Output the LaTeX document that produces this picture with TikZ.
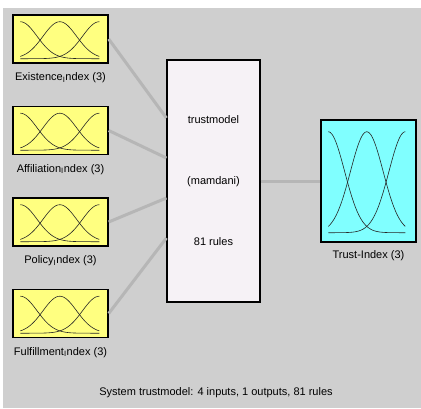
\documentclass[tikz,border=0pt]{standalone}
\usepackage{fontspec}
\setmainfont{Liberation Sans}
\usepackage{xcolor}
\usepackage{tikz}

\definecolor{figgray}{HTML}{CFCFCF}
\definecolor{wiregray}{HTML}{B6B6B6}
\definecolor{inyellow}{HTML}{FFFF80}
\definecolor{outcyan}{HTML}{80FFFF}
\definecolor{rulewhite}{HTML}{F6F2F6}

\begin{document}
\begin{tikzpicture}[
  x=1pt, y=-1pt,
  font=\fontsize{11}{13}\selectfont,
  every node/.style={inner sep=0pt},
  varbox/.style={draw=black, line width=1.4pt, minimum width=95pt, minimum height=48pt},
  inbox/.style={varbox, fill=inyellow},
  outbox/.style={varbox, fill=outcyan, minimum height=122pt},
  rulebox/.style={draw=black, line width=1.2pt, fill=rulewhite, minimum width=93pt,
    minimum height=242pt, align=center},
  wire/.style={draw=wiregray, line width=3pt},
  mfline/.style={draw=black!85, line width=0.6pt},
  pics/gaussmf/.style 2 args={code={
    \foreach \m in {0,0.5,1}
      \draw[mfline] plot[domain=0:1, samples=41, smooth]
        ({\x*#1}, {-#2*exp(-((\x-\m)^2)/0.0901)});
  }}]

\useasboundingbox (0,0) rectangle (421,408);
\fill[figgray] (3,8) rectangle (421,408);

% inputs
\node[inbox] (exist) at (60.5,39) {};
\node[inbox] (affil) at (60.5,130.5) {};
\node[inbox] (policy) at (60.5,222) {};
\node[inbox] (fulfil) at (60.5,313.5) {};
\node (existname) at ([yshift=-14pt]exist.south) {Existence\textsubscript{I}ndex (3)};
\node (affilname) at ([yshift=-14pt]affil.south) {Affiliation\textsubscript{I}ndex (3)};
\node (policyname) at ([yshift=-14pt]policy.south) {Policy\textsubscript{I}ndex (3)};
\node (fulfilname) at ([yshift=-14pt]fulfil.south) {Fulfillment\textsubscript{I}ndex (3)};

% rule block and output
\node[rulebox] (rules) at (213.5,181) {trustmodel\\[48pt](mamdani)\\[48pt]81 rules};
\node[outbox] (trust) at (368.5,181) {};
\node (trustname) at ([yshift=-13pt]trust.south) {Trust-Index (3)};

\foreach \v/\d in {exist/63, affil/23, policy/-17, fulfil/-57}
  \draw[wire] (\v.east) -- ([yshift=\d pt]rules.west);
\draw[wire] (rules.east) -- (trust.west);

% membership functions
\foreach \v in {exist, affil, policy, fulfil}
  \pic at ([shift={(8,-5)}]\v.south west) {gaussmf={79}{37}};
\pic at ([shift={(8,-10)}]trust.south west) {gaussmf={77}{101}};

\node (summary) at (216,393) {System trustmodel: 4 inputs, 1 outputs, 81 rules};
\end{tikzpicture}
\end{document}
